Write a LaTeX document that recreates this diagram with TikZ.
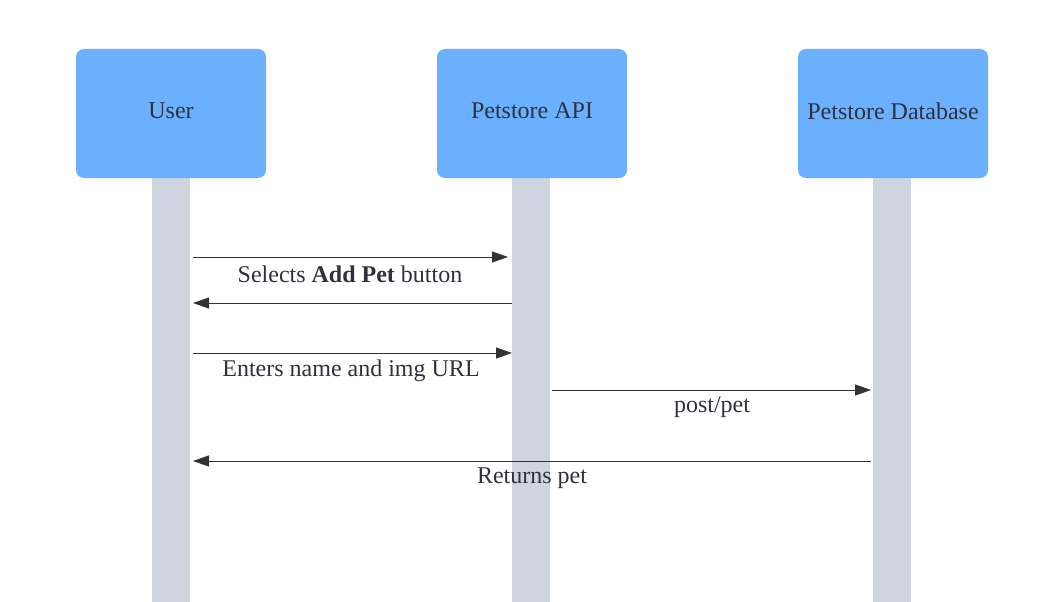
\documentclass[tikz,border=0pt]{standalone}
\usepackage{fontspec}
\setmainfont{Liberation Serif}
\usetikzlibrary{arrows.meta}
\definecolor{boxblue}{HTML}{6BAFFF}
\definecolor{lifegray}{HTML}{CED5DE}
\definecolor{txt}{HTML}{2E323A}
\definecolor{linec}{HTML}{333333}
\tikzset{
  lbl/.style={text=txt, font=\fontsize{24}{28}\selectfont, inner sep=0pt},
  actor/.style={fill=boxblue, draw=none, rounded corners=8pt, minimum width=190pt, minimum height=129pt, inner sep=0pt},
  life/.style={fill=lifegray, draw=none, minimum width=38pt, minimum height=424pt, inner sep=0pt, anchor=north},
  msg/.style={draw=linec, line width=1pt, -{Triangle[length=16pt,width=11pt]}}
}
\begin{document}
\begin{tikzpicture}[x=1pt,y=-1pt]
\useasboundingbox (0,0) rectangle (1049,602);
\node[life] (lu) at (171,178) {};
\node[life] (la) at (531,178) {};
\node[life] (ld) at (891.5,178) {};
\node[actor, label={[lbl,yshift=2.5pt]center:User}] (user) at (171,113.5) {};
\node[actor, label={[lbl,yshift=2.5pt]center:Petstore API}] (api) at (532,113.5) {};
\node[actor, label={[lbl,yshift=2.5pt]center:Petstore Database}] (db) at (893,113.5) {};

\coordinate (m1s) at (193,257); \coordinate (m1e) at (508,257);
\coordinate (m2s) at (512,303); \coordinate (m2e) at (193,303);
\coordinate (m3s) at (193,353); \coordinate (m3e) at (512,353);
\coordinate (m4s) at (552,390); \coordinate (m4e) at (871,390);
\coordinate (m5s) at (871,461); \coordinate (m5e) at (193,461);

\draw[msg] (m1s) -- (m1e);
\draw[msg] (m2s) -- (m2e);
\draw[msg] (m3s) -- (m3e);
\draw[msg] (m4s) -- (m4e);
\draw[msg] (m5s) -- (m5e);

\node[lbl] (l1) at (350,274) {Selects \textbf{Add Pet} button};
\node[lbl] (l3) at (351,371) {Enters name and img URL};
\node[lbl] (l4) at (712,407) {post/pet};
\node[lbl] (l5) at (532,478) {Returns pet};
\end{tikzpicture}
\end{document}
